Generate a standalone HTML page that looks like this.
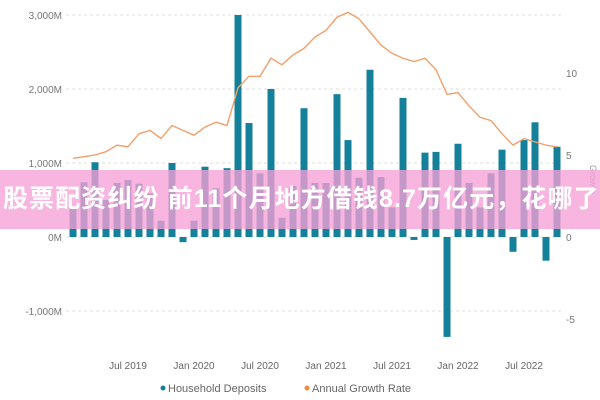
<!DOCTYPE html>
<html><head><meta charset="utf-8"><style>
body{margin:0;background:#fff;width:600px;height:400px;overflow:hidden;position:relative;font-family:"Liberation Sans","Noto Sans CJK SC",sans-serif}
svg{position:absolute;left:0;top:0}
#banner{position:absolute;left:0;top:170px;width:600px;height:59px;background:rgba(246,160,214,0.78);color:#fff;font-size:25px;font-weight:bold;line-height:59px;white-space:nowrap;padding-left:3px;letter-spacing:1.1px;font-family:"Liberation Sans","Noto Sans CJK SC",sans-serif}
</style></head><body>
<svg id="chart" width="600" height="400"></svg>
<div id="banner">股票配资纠纷 前11个月地方借钱8.7万亿元，花哪了</div>
<script>
const months=["Feb 2019","Mar 2019","Apr 2019","May 2019","Jun 2019","Jul 2019","Aug 2019","Sep 2019","Oct 2019","Nov 2019","Dec 2019","Jan 2020","Feb 2020","Mar 2020","Apr 2020","May 2020","Jun 2020","Jul 2020","Aug 2020","Sep 2020","Oct 2020","Nov 2020","Dec 2020","Jan 2021","Feb 2021","Mar 2021","Apr 2021","May 2021","Jun 2021","Jul 2021","Aug 2021","Sep 2021","Oct 2021","Nov 2021","Dec 2021","Jan 2022","Feb 2022","Mar 2022","Apr 2022","May 2022","Jun 2022","Jul 2022","Aug 2022","Sep 2022","Oct 2022"];
const deposits=[400,740,1010,500,730,770,720,590,220,1000,-70,220,950,660,930,3000,1540,860,2000,260,690,1740,730,730,1930,1310,800,2260,810,400,1880,-40,1140,1150,-1350,1260,730,400,860,1180,-200,1310,1550,-320,1220];
const growth=[4.8,4.9,5.0,5.2,5.6,5.5,6.3,6.5,6.0,6.8,6.5,6.2,6.7,7.0,6.8,9.1,9.8,9.8,10.9,10.5,11.1,11.5,12.2,12.6,13.4,13.7,13.3,12.5,11.7,11.2,10.9,10.7,10.9,10.2,8.7,8.8,8.0,7.3,7.1,6.3,5.6,6.0,5.8,5.6,5.5];
const leftTicks=[3000,2000,1000,0,-1000];
const leftLabels=["3,000M","2,000M","1,000M","0M","-1,000M"];
const rightTicks=[10,5,0,-5];
const xLabelIdx=[5,11,17,23,29,35,41];
const xLabels=["Jul 2019","Jan 2020","Jul 2020","Jan 2021","Jul 2021","Jan 2022","Jul 2022"];

const svg=document.getElementById('chart');const NS='http://www.w3.org/2000/svg';
const yL=v=>237-v*0.074, yR=v=>237-v*16.4, xI=i=>73+i*11;
function mk(t,a,p){const e=document.createElementNS(NS,t);for(const k in a)e.setAttribute(k,a[k]);(p||svg).appendChild(e);return e;}
leftTicks.forEach((v,i)=>{
 const g=mk('line',{x1:66,x2:562,y1:yL(v),y2:yL(v),stroke:'#ddd','stroke-dasharray':'3,3'});
 
 
 const t=mk('text',{x:62,y:yL(v)+4,'text-anchor':'end','font-size':10,fill:'#777'});t.textContent=leftLabels[i];
 
 
});
rightTicks.forEach(v=>{
 const t=mk('text',{x:566,y:yR(v)+4,'font-size':10,fill:'#777'});t.textContent=v;
 
 
});
const rt=mk('text',{x:590,y:165,'font-size':9,fill:'#999',transform:'rotate(90 590 165)'});rt.textContent='Growth';


deposits.forEach((v,i)=>{
 const y0=yL(0),y1=yL(v);
 const r=mk('rect',{x:xI(i)-3.5,y:Math.min(y0,y1),width:7,height:Math.max(1.5,Math.abs(y1-y0)),fill:'#14809a'});
 
 
});
const pl=mk('polyline',{points:growth.map((v,i)=>xI(i)+','+yR(v)).join(' '),fill:'none',stroke:'#f2a06a','stroke-width':1.4});


xLabelIdx.forEach((idx,i)=>{
 const t=mk('text',{x:xI(idx),y:369,'text-anchor':'middle','font-size':10,fill:'#666'});t.textContent=xLabels[i];
 
 
});
const lg=mk('g',{});


const c1=mk('circle',{cx:163,cy:388,r:2.5,fill:'#14809a'},lg);


const t1=mk('text',{x:168,y:392,'font-size':11,fill:'#666'},lg);t1.textContent='Household Deposits';


const c2=mk('circle',{cx:307,cy:388,r:2.5,fill:'#f28a3c'},lg);


const t2=mk('text',{x:312,y:392,'font-size':11,fill:'#666'},lg);t2.textContent='Annual Growth Rate';


</script>
</body></html>
